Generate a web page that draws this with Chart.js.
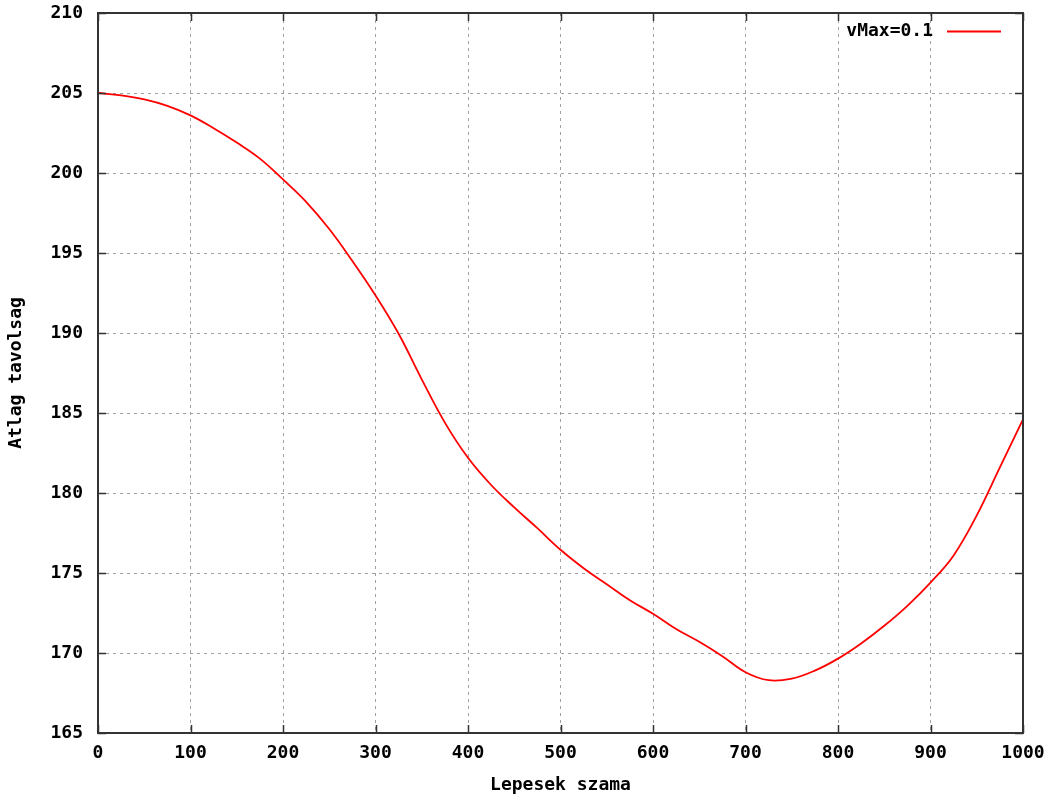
<!DOCTYPE html>
<html lang="hu">
<head>
    <meta charset="UTF-8">
    <title>Atlag tavolsag</title>
    <script src="https://cdn.jsdelivr.net/npm/chart.js"></script>
    <style>
        body { margin: 0; background: #fff; }
        #wrap { width: 1057px; height: 800px; }
    </style>
</head>
<body>
    <div id="wrap"><canvas id="grafikon" width="1057" height="800"></canvas></div>

    <script>
        // lepesek (x) es atlag tavolsag (y), a keprol leolvasva
        const lepesek = [0, 25, 50, 75, 100, 125, 150, 175, 200, 225, 250, 275, 300, 325, 350, 375, 400,
            425, 450, 475, 500, 525, 550, 575, 600, 625, 650, 675, 700, 725, 750, 775, 800,
            825, 850, 875, 900, 925, 950, 975, 1000];
        const tavolsag = [205.0, 204.85, 204.6, 204.2, 203.6, 202.8, 201.9, 200.9, 199.6, 198.2, 196.5, 194.5, 192.35,
            189.95, 187.1, 184.4, 182.2, 180.5, 179.1, 177.8, 176.45, 175.3, 174.3, 173.3, 172.45,
            171.5, 170.7, 169.8, 168.8, 168.3, 168.4, 168.9, 169.65, 170.6, 171.7, 172.95, 174.4,
            176.1, 178.6, 181.6, 184.6];
        const sorozatNev = 'vMax=0.1';

        const betu = { family: '"DejaVu Sans Mono", monospace', size: 18, weight: 'bold' };

        // gnuplot-szeru keret, befele allo osztasjelek + jelmagyarazat
        const keret = {
            id: 'keret',
            afterDraw(chart) {
                const { ctx, chartArea: a, scales: { x, y } } = chart;
                ctx.save();
                ctx.strokeStyle = '#333';
                ctx.lineWidth = 2;
                ctx.strokeRect(a.left, a.top, a.right - a.left, a.bottom - a.top);
                ctx.lineWidth = 1.5;
                ctx.beginPath();
                y.ticks.forEach(t => {
                    const py = Math.round(y.getPixelForValue(t.value)) + 0.5;
                    ctx.moveTo(a.left, py); ctx.lineTo(a.left + 8, py);
                    ctx.moveTo(a.right, py); ctx.lineTo(a.right - 8, py);
                });
                x.ticks.forEach(t => {
                    const px = Math.round(x.getPixelForValue(t.value)) + 0.5;
                    ctx.moveTo(px, a.bottom); ctx.lineTo(px, a.bottom - 8);
                    ctx.moveTo(px, a.top); ctx.lineTo(px, a.top + 8);
                });
                ctx.stroke();

                // jelmagyarazat
                ctx.font = 'bold 18px "DejaVu Sans Mono", monospace';
                ctx.fillStyle = '#000';
                ctx.textAlign = 'right';
                ctx.textBaseline = 'middle';
                ctx.fillText(sorozatNev, a.right - 90, a.top + 18);
                ctx.strokeStyle = 'red';
                ctx.lineWidth = 1.8;
                ctx.beginPath();
                ctx.moveTo(a.right - 76, a.top + 18.5);
                ctx.lineTo(a.right - 22, a.top + 18.5);
                ctx.stroke();
                ctx.restore();
            }
        };

        new Chart(document.getElementById('grafikon'), {
            type: 'line',
            data: {
                datasets: [{
                    label: sorozatNev,
                    data: lepesek.map((l, i) => ({ x: l, y: tavolsag[i] })),
                    borderColor: 'red',
                    borderWidth: 1.8,
                    pointRadius: 0,
                    fill: false,
                    tension: 0.4
                }]
            },
            options: {
                responsive: false,
                animation: false,
                layout: { padding: { top: 13, right: 34, left: 0, bottom: 0 } },
                plugins: { legend: { display: false }, tooltip: { enabled: false } },
                scales: {
                    x: {
                        type: 'linear',
                        min: 0, max: 1000,
                        ticks: { stepSize: 100, color: '#000', font: betu, padding: 10, maxRotation: 0,
                                 callback: v => String(v) },
                        grid: { color: '#a0a0a0', drawTicks: false },
                        border: { color: '#333', width: 2, dash: [3, 4] },
                        title: { display: true, text: 'Lepesek szama', color: '#000', font: betu, padding: { top: 6, bottom: 4 } },
                        afterFit(s) { s.height = 67; }
                    },
                    y: {
                        min: 165, max: 210,
                        ticks: { stepSize: 5, color: '#000', font: betu, padding: 15 },
                        grid: { color: '#a0a0a0', drawTicks: false },
                        border: { color: '#333', width: 2, dash: [3, 4] },
                        title: { display: true, text: 'Atlag tavolsag', color: '#000', font: betu, padding: { top: 6, bottom: 4 } },
                        afterFit(s) { s.width = 98; s.paddingTop = 0; s.paddingBottom = 0; }
                    }
                }
            },
            plugins: [keret]
        });
    </script>
</body>
</html>
